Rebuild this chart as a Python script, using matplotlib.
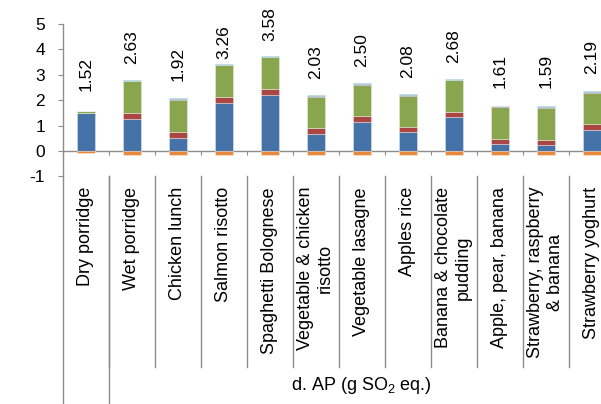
import matplotlib
matplotlib.use("Agg")
import matplotlib.pyplot as plt
import numpy as np

plt.rcParams['font.family'] = ['Liberation Sans', 'DejaVu Sans']
plt.rcParams['mathtext.fontset'] = 'custom'
plt.rcParams['mathtext.rm'] = 'Liberation Sans'

categories = ["Dry porridge", "Wet porridge", "Chicken lunch", "Salmon risotto",
              "Spaghetti Bolognese", "Vegetable & chicken\nrisotto", "Vegetable lasagne",
              "Apples rice", "Banana & chocolate\npudding", "Apple, pear, banana",
              "Strawberry, raspberry\n& banana", "Strawberry yoghurt"]
group_label = r"d. AP (g SO$_\mathrm{2}$ eq.)"

blue = [1.49, 1.27, 0.52, 1.90, 2.22, 0.67, 1.14, 0.73, 1.33, 0.26, 0.23, 0.83]
red = [0.01, 0.22, 0.23, 0.22, 0.22, 0.24, 0.24, 0.22, 0.22, 0.22, 0.21, 0.22]
green = [0.06, 1.25, 1.24, 1.26, 1.25, 1.23, 1.22, 1.23, 1.23, 1.26, 1.25, 1.24]
purple = [0.01, 0.03, 0.04, 0.02, 0.03, 0.02, 0.02, 0.03, 0.03, 0.02, 0.03, 0.03]
lightblue = [0.02, 0.03, 0.06, 0.03, 0.03, 0.04, 0.05, 0.04, 0.04, 0.02, 0.04, 0.04]
orange = [-0.07, -0.17, -0.17, -0.17, -0.17, -0.17, -0.17, -0.17, -0.17, -0.17, -0.17, -0.17]

# label offsets above bar top (points) - styling
label_offsets = [14.4, 11.1, 12.0, 3.2, 10.8, 11.3, 11.7, 11.1, 11.0, 13.0, 13.0, 12.2]

colors = ['#4572A7', '#AA4643', '#89A54E', '#71588F', '#4198AF']
orange_color = '#E8883A'
axis_gray = '#8C8C8C'

fig = plt.figure(figsize=(6.01, 4.04), dpi=100)
ax = fig.add_axes([62.7 / 601, (404 - 176.4) / 404, 552 / 601, 152.4 / 404])

n = len(categories)
x = np.arange(n) + 0.5
width = 0.39
bottom = np.zeros(n)
for vals, c in zip([blue, red, green, purple, lightblue], colors):
    ax.bar(x, vals, width, bottom=bottom, color=c, edgecolor=(1, 1, 1, 0.5), linewidth=0.5, zorder=3)
    bottom += np.array(vals)
ax.bar(x, orange, width, color=orange_color, edgecolor=(1, 1, 1, 0.5), linewidth=0.5, zorder=3)

totals = bottom + np.array(orange)
for xi, top, tot, off in zip(x, bottom, totals, label_offsets):
    ax.annotate(f"{tot:.2f}", (xi, top), xytext=(0, off), textcoords='offset points',
                rotation=90, ha='center', va='bottom', fontsize=12.5, annotation_clip=False)

ax.set_xlim(0, n)
ax.set_ylim(-1, 5)
ax.set_yticks(range(-1, 6))
ax.set_yticklabels([str(v) for v in range(-1, 6)])
ax.tick_params(axis='y', direction='out', length=3.8, width=0.8, color=axis_gray,
               labelsize=12.5, pad=9)
ax.spines['top'].set_visible(False)
ax.spines['right'].set_visible(False)
ax.spines['left'].set_color(axis_gray)
ax.spines['left'].set_linewidth(1.0)
ax.spines['bottom'].set_position(('data', 0))
ax.spines['bottom'].set_color(axis_gray)
ax.spines['bottom'].set_linewidth(1.0)
ax.set_xticks(np.arange(0, n + 1))
ax.tick_params(axis='x', direction='out', length=3.2, width=0.8, color=axis_gray,
               labelbottom=False)

trans = ax.get_xaxis_transform()
px = 152.4  # axes height in px
band_bottom = (176.4 - 367) / px
fig_bottom = (176.4 - 404) / px
label_top = (176.4 - 187) / px

for b in range(1, n):
    ax.plot([b, b], [0, band_bottom], color=axis_gray, lw=1.0, transform=trans, clip_on=False)
for b in [0, 1]:
    ax.plot([b, b], [0, fig_bottom], color=axis_gray, lw=1.0, transform=trans, clip_on=False)

for xi, cat in zip(x, categories):
    ax.text(xi, label_top, cat, rotation=90, ha='center', va='top', multialignment='center',
            fontsize=13, transform=trans, clip_on=False, linespacing=1.2)

ax.text((1 + n) / 2, (176.4 - 385) / px, group_label, ha='center', va='center',
        fontsize=13, transform=trans, clip_on=False)

fig.savefig("out.png", dpi=100)
